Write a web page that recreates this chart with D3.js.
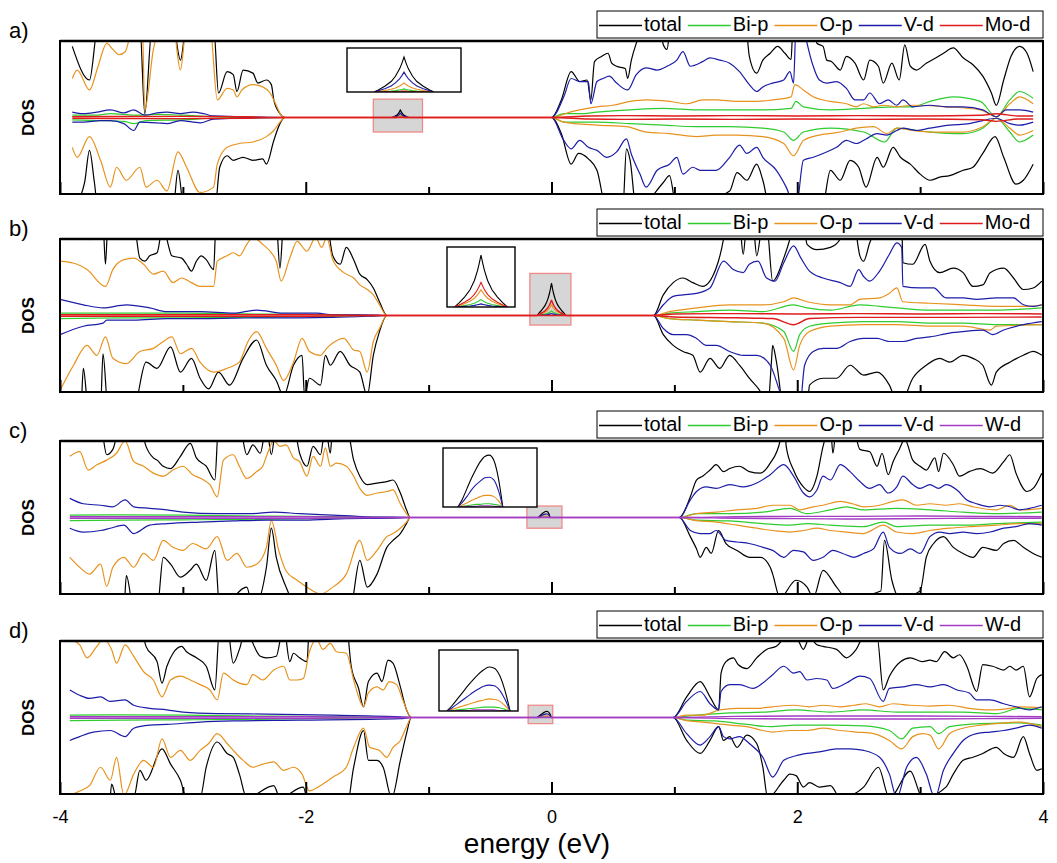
<!DOCTYPE html>
<html><head><meta charset="utf-8">
<script src="https://cdn.jsdelivr.net/npm/d3@7"></script>
<style>body{margin:0;background:#fff}svg{display:block;font-family:"Liberation Sans",Arial,sans-serif}</style>
</head><body>
<svg id="c" width="1057" height="863"></svg>
<script>
// ---------- DATA ----------
const panelLabels = ["a)", "b)", "c)", "d)"];
const legendA = ["total", "Bi-p", "O-p", "V-d", "Mo-d"];
const legendC = ["total", "Bi-p", "O-p", "V-d", "W-d"];
const majorTicks = [-4, -2, 0, 2, 4];
const minorTicks = [-3, -1, 1, 3];
const xDomain = [-4, 4];
const yDomain = [-10, 10];

// Panel a (Mo-doped): [energy eV, DOS] ; positive = spin up, negative = spin down
const aTotVbUp = [[-3.90,9.3],[-3.76,4.9],[-3.69,12],[-3.35,12],[-3.31,0.5],[-3.25,12],[-3.08,12],[-3.02,7.5],[-2.97,12],[-2.75,12],[-2.71,3.2],[-2.64,6.0],[-2.59,5.6],[-2.56,3.4],[-2.51,6.2],[-2.43,5.8],[-2.39,4.5],[-2.32,4.9],[-2.28,4.3],[-2.26,2.3],[-2.21,0.5],[-2.17,0]];
const aTotCbUp = [[0,0],[0.08,2.3],[0.16,6.0],[0.23,4.7],[0.29,4.9],[0.32,2.3],[0.35,7.3],[0.41,8.0],[0.46,8.4],[0.49,7.1],[0.53,6.7],[0.60,6.4],[0.62,5.1],[0.65,7.5],[0.69,9.7],[0.75,12],[0.88,12],[0.91,9.5],[0.94,8.9],[0.97,12],[1.58,12],[1.61,8.0],[1.67,5.8],[1.72,7.5],[1.78,8.4],[1.84,9.3],[1.90,8.4],[1.95,7.6],[1.965,12],[2.13,12],[2.16,9.7],[2.21,9.3],[2.24,7.5],[2.28,7.3],[2.35,6.2],[2.40,8.0],[2.47,7.1],[2.54,4.9],[2.59,7.5],[2.66,6.7],[2.70,4.5],[2.77,7.1],[2.83,4.9],[2.875,9.5],[2.92,6.7],[2.97,6.2],[3.05,7.1],[3.13,7.8],[3.19,8.4],[3.27,9.1],[3.35,7.8],[3.43,6.9],[3.51,5.4],[3.58,3.2],[3.62,1.6],[3.68,4.9],[3.74,8.0],[3.81,9.3],[3.87,8.4],[3.92,6.0]];
const aTotVbDn = [[-3.90,-12],[-3.80,-8.5],[-3.76,-4.3],[-3.72,-8.5],[-3.69,-12],[-3.08,-12],[-3.04,-6.9],[-2.99,-12],[-2.74,-12],[-2.70,-6.5],[-2.64,-5.0],[-2.59,-5.6],[-2.51,-5.2],[-2.43,-5.6],[-2.35,-5.4],[-2.32,-6.1],[-2.26,-3.0],[-2.21,-0.8],[-2.17,0]];
const aTotCbDn = [[0,0],[0.08,-2.1],[0.16,-6.1],[0.22,-4.7],[0.30,-5.4],[0.37,-6.9],[0.45,-12],[0.58,-12],[0.61,-4.1],[0.64,-5.6],[0.69,-12],[0.91,-8.5],[0.96,-7.6],[1.02,-12],[1.45,-9.6],[1.51,-7.2],[1.59,-8.2],[1.67,-6.1],[1.72,-8.2],[1.78,-12],[2.20,-12],[2.27,-6.9],[2.35,-8.2],[2.43,-5.6],[2.50,-6.5],[2.56,-9.1],[2.65,-5.2],[2.70,-6.5],[2.78,-3.9],[2.84,-5.2],[2.92,-6.1],[3.00,-7.4],[3.08,-8.2],[3.16,-7.8],[3.24,-7.6],[3.35,-6.9],[3.43,-6.5],[3.51,-4.7],[3.61,-2.5],[3.68,-5.2],[3.78,-8.7],[3.84,-8.2],[3.92,-6.1]];
const aOVbUp = [[-3.90,5.1],[-3.86,6.2],[-3.76,3.6],[-3.69,6.7],[-3.62,9.7],[-3.57,8.9],[-3.52,8.2],[-3.47,8.6],[-3.40,12],[-3.33,12],[-3.31,1.0],[-3.24,8.9],[-3.17,12],[-3.08,12],[-3.02,6.2],[-2.97,12],[-2.78,12],[-2.72,2.3],[-2.64,3.8],[-2.59,3.6],[-2.56,2.7],[-2.52,3.6],[-2.43,4.3],[-2.35,4.0],[-2.29,3.2],[-2.24,1.6],[-2.20,0.3],[-2.17,0]];
const aOCbUp = [[0,0],[0.15,0.7],[0.23,1.0],[0.37,1.4],[0.50,1.6],[0.64,2.1],[0.77,2.3],[0.96,2.1],[1.10,1.8],[1.23,2.3],[1.34,2.3],[1.51,2.1],[1.67,2.1],[1.80,2.3],[1.95,2.7],[1.98,4.3],[2.05,3.6],[2.13,2.7],[2.27,2.1],[2.40,1.8],[2.48,1.4],[2.54,1.8],[2.62,1.4],[2.70,1.6],[2.81,1.4],[2.94,1.6],[3.21,1.4],[3.49,1.0],[3.62,0.1],[3.73,1.8],[3.81,2.7],[3.92,1.8]];
const aOVbDn = [[-3.90,-3.9],[-3.86,-5.2],[-3.76,-2.5],[-3.67,-5.6],[-3.59,-9.1],[-3.54,-6.5],[-3.46,-8.2],[-3.35,-6.5],[-3.30,-9.1],[-3.21,-8.2],[-3.13,-9.6],[-3.04,-4.5],[-2.97,-6.5],[-2.86,-9.8],[-2.75,-9.1],[-2.72,-6.1],[-2.64,-3.9],[-2.54,-3.4],[-2.43,-3.2],[-2.32,-2.5],[-2.26,-1.7],[-2.20,-0.4],[-2.17,0]];
const aOCbDn = [[0,0],[0.10,-0.6],[0.37,-1.0],[0.61,-1.2],[0.77,-1.9],[0.96,-2.1],[1.18,-2.5],[1.34,-2.3],[1.51,-2.3],[1.72,-2.5],[1.89,-3.4],[1.97,-5.0],[2.05,-3.0],[2.18,-2.3],[2.35,-1.9],[2.48,-1.4],[2.62,-1.2],[2.73,-2.1],[2.81,-1.4],[2.94,-1.7],[3.08,-1.9],[3.35,-1.9],[3.51,-1.2],[3.62,-0.1],[3.73,-1.4],[3.81,-2.3],[3.92,-1.7]];
const aVVbUp = [[-3.90,0.7],[-3.81,0.5],[-3.70,0.7],[-3.59,1.0],[-3.48,0.6],[-3.40,1.0],[-3.31,0.3],[-3.21,0.6],[-3.13,0.7],[-3.02,0.5],[-2.92,0.7],[-2.83,0.5],[-2.75,0.2],[-2.17,0]];
const aVCbUp = [[0,0],[0.10,2.7],[0.16,5.1],[0.23,4.7],[0.30,4.7],[0.32,1.8],[0.37,4.7],[0.42,5.1],[0.47,5.4],[0.53,4.5],[0.62,3.6],[0.69,5.6],[0.77,6.5],[0.86,6.2],[0.94,6.7],[1.02,7.5],[1.07,8.6],[1.13,6.7],[1.23,7.3],[1.29,7.8],[1.37,7.5],[1.45,7.1],[1.53,6.0],[1.61,4.3],[1.67,3.4],[1.72,4.0],[1.80,4.5],[1.89,4.9],[1.94,6.0],[1.97,4.5],[1.99,12],[2.05,12],[2.08,9.7],[2.13,6.7],[2.18,4.9],[2.24,4.5],[2.32,4.7],[2.40,3.8],[2.47,2.3],[2.54,2.3],[2.59,3.2],[2.67,1.8],[2.74,2.3],[2.81,1.6],[2.86,2.3],[2.94,1.4],[3.08,1.6],[3.21,1.4],[3.35,1.4],[3.51,1.0],[3.62,0.1],[3.70,1.0],[3.81,1.0],[3.92,0.7]];
const aVVbDn = [[-3.90,-0.6],[-3.81,-0.6],[-3.67,-0.4],[-3.59,-0.4],[-3.48,-0.8],[-3.40,-1.7],[-3.35,-0.6],[-3.21,-0.7],[-3.13,-0.8],[-3.02,-0.4],[-2.86,-0.7],[-2.75,-0.2],[-2.17,0]];
const aVCbDn = [[0,0],[0.10,-3.0],[0.16,-4.1],[0.23,-3.0],[0.30,-3.9],[0.37,-4.3],[0.45,-5.2],[0.53,-4.5],[0.61,-2.8],[0.65,-4.8],[0.72,-7.4],[0.77,-9.1],[0.86,-6.9],[0.96,-6.1],[1.02,-5.2],[1.07,-7.4],[1.15,-6.5],[1.21,-6.9],[1.34,-6.9],[1.45,-5.2],[1.53,-3.6],[1.59,-4.7],[1.67,-3.9],[1.72,-5.2],[1.83,-6.9],[1.91,-9.1],[1.99,-12],[2.05,-5.6],[2.13,-5.2],[2.21,-4.7],[2.32,-3.9],[2.40,-3.0],[2.48,-3.4],[2.56,-2.8],[2.65,-2.1],[2.73,-2.3],[2.81,-1.7],[2.86,-1.4],[2.97,-1.7],[3.08,-1.4],[3.24,-1.0],[3.40,-0.8],[3.51,-0.4],[3.62,-0.1],[3.73,-0.8],[3.81,-1.0],[3.92,-0.6]];
const aBiVbUp = [[-3.90,0.3],[-3.70,0.3],[-3.59,0.5],[-3.40,0.3],[-3.20,0.4],[-3.00,0.3],[-2.75,0.1],[-2.17,0]];
const aBiCbUp = [[0,0],[0.10,0.5],[0.23,0.5],[0.37,0.7],[0.64,1.0],[0.91,1.2],[1.18,1.0],[1.45,1.0],[1.72,1.0],[1.95,1.2],[1.99,2.1],[2.05,1.4],[2.27,1.0],[2.54,1.2],[2.81,1.4],[2.94,1.4],[3.08,2.1],[3.27,2.7],[3.49,2.1],[3.62,0.1],[3.73,2.3],[3.81,3.4],[3.92,2.5]];
const aBiVbDn = [[-3.90,-0.3],[-3.70,-0.4],[-3.48,-0.5],[-3.40,-0.8],[-3.30,-0.4],[-3.00,-0.3],[-2.75,-0.1],[-2.17,0]];
const aBiCbDn = [[0,0],[0.10,-0.6],[0.37,-0.6],[0.64,-0.8],[0.91,-1.0],[1.18,-1.2],[1.45,-1.2],[1.72,-1.4],[1.89,-1.9],[1.97,-3.0],[2.05,-1.9],[2.27,-1.4],[2.54,-1.9],[2.71,-3.2],[2.81,-1.4],[3.08,-1.9],[3.35,-2.1],[3.51,-1.4],[3.62,-0.1],[3.73,-1.9],[3.81,-3.2],[3.92,-2.3]];
const aMVbUp = [[-3.90,0.1],[-3.00,0.15],[-2.50,0.1],[-2.17,0]];
const aMCbUp = [[0,0],[0.30,0.2],[0.60,0.25],[1.00,0.2],[1.50,0.25],[2.00,0.2],[2.50,0.25],[3.00,0.2],[3.50,0.3],[3.62,0.5],[3.80,0.2],[3.92,0.2]];
const aMVbDn = [[-3.90,-0.1],[-3.00,-0.15],[-2.50,-0.1],[-2.17,0]];
const aMCbDn = [[0,0],[0.30,-0.2],[0.60,-0.25],[1.00,-0.2],[1.50,-0.25],[2.00,-0.2],[2.50,-0.25],[3.00,-0.2],[3.50,-0.3],[3.62,-0.5],[3.80,-0.2],[3.92,-0.2]];
// gap state, panel a (spin up only)
const aGapE   = [-1.30,-1.29,-1.275,-1.26,-1.25,-1.24,-1.235,-1.23,-1.225,-1.22,-1.21,-1.20,-1.185,-1.17,-1.16];
const aGapTot = [0,0.06,0.165,0.30,0.45,0.67,0.82,1.0,0.82,0.67,0.45,0.30,0.165,0.06,0];
const aGapBi  = [0,0.005,0.015,0.027,0.04,0.06,0.074,0.09,0.074,0.06,0.04,0.027,0.015,0.005,0];
const aGapO   = [0,0.016,0.043,0.078,0.117,0.174,0.213,0.26,0.213,0.174,0.117,0.078,0.043,0.016,0];
const aGapV   = [0,0.034,0.094,0.17,0.26,0.38,0.47,0.57,0.47,0.38,0.26,0.17,0.094,0.034,0];
const aGapM   = [0,0.002,0.005,0.009,0.014,0.02,0.025,0.03,0.025,0.02,0.014,0.009,0.005,0.002,0];
const aBox = [-1.45, -1.05, -1.9, 2.4];      // highlighted region [E0,E1,D0,D1]
const aInsetX = [-1.363, -1.097], aInsetY = [0, 1.26];

// Panel b
const bTotVbUp = [[-4.0,12],[-3.78,12],[-3.76,9.9],[-3.74,12],[-3.65,12],[-3.63,6.7],[-3.61,12],[-3.40,12],[-3.35,7.5],[-3.31,7.1],[-3.27,7.8],[-3.21,8.2],[-3.16,12],[-3.12,9.3],[-3.09,7.8],[-3.01,7.5],[-2.97,6.7],[-2.93,5.8],[-2.89,7.1],[-2.85,7.8],[-2.81,7.3],[-2.75,6.0],[-2.73,12],[-2.24,12],[-2.21,6.2],[-2.18,12],[-1.83,12],[-1.78,7.8],[-1.72,6.7],[-1.67,8.9],[-1.61,7.3],[-1.56,5.4],[-1.50,4.7],[-1.45,3.6],[-1.40,1.8],[-1.34,0]];
const bTotCbUp = [[0.83,0],[0.91,2.7],[0.99,4.3],[1.07,4.9],[1.15,4.3],[1.23,3.8],[1.34,6.2],[1.40,10],[1.42,12],[1.53,12],[1.56,8.0],[1.59,12],[1.64,12],[1.67,7.8],[1.72,12],[1.75,12],[1.80,4.5],[1.89,7.5],[1.94,10],[1.97,12],[2.05,12],[2.08,9.3],[2.16,8.6],[2.27,8.9],[2.35,10],[2.38,12],[2.46,12],[2.51,7.8],[2.54,7.1],[2.59,9.5],[2.67,12],[2.85,12],[2.86,6.9],[2.94,6.7],[3.04,9.3],[3.08,7.1],[3.16,5.6],[3.27,6.2],[3.35,5.6],[3.43,3.8],[3.51,4.0],[3.57,5.6],[3.68,6.2],[3.76,4.9],[3.84,3.4],[3.92,3.6],[3.99,4.5]];
const bTotVbDn = [[-4.0,-12],[-3.83,-12],[-3.81,-6.9],[-3.77,-12],[-3.67,-12],[-3.65,-5.0],[-3.61,-12],[-3.40,-12],[-3.30,-6.1],[-3.21,-6.9],[-3.10,-4.1],[-3.02,-7.4],[-2.93,-5.6],[-2.86,-8.2],[-2.79,-9.6],[-2.71,-7.4],[-2.62,-9.1],[-2.51,-5.6],[-2.40,-3.2],[-2.32,-6.5],[-2.24,-8.5],[-2.18,-10.5],[-2.10,-6.5],[-2.03,-5.2],[-2.01,-10.5],[-1.97,-8.2],[-1.88,-9.1],[-1.84,-5.2],[-1.80,-6.5],[-1.72,-4.7],[-1.64,-6.5],[-1.56,-7.4],[-1.50,-10.5],[-1.45,-5.2],[-1.40,-2.1],[-1.34,0]];
const bTotCbDn = [[0.83,0],[0.91,-2.5],[0.99,-3.9],[1.07,-4.7],[1.15,-5.2],[1.21,-7.4],[1.29,-5.6],[1.37,-6.9],[1.45,-5.2],[1.53,-6.5],[1.61,-8.2],[1.72,-10.5],[1.76,-12],[1.79,-6.0],[1.80,-3.9],[1.83,-6.0],[1.89,-12],[2.08,-12],[2.10,-9.1],[2.21,-8.2],[2.32,-8.2],[2.43,-6.5],[2.54,-7.8],[2.65,-7.4],[2.75,-9.1],[2.83,-12],[2.94,-8.2],[3.05,-6.5],[3.16,-5.6],[3.24,-6.1],[3.35,-5.2],[3.43,-5.6],[3.51,-6.5],[3.58,-9.1],[3.62,-7.4],[3.73,-6.1],[3.84,-5.2],[3.92,-4.7],[3.99,-5.2]];
const bOVbUp = [[-4.0,7.1],[-3.86,6.7],[-3.78,6.0],[-3.63,3.8],[-3.57,6.0],[-3.48,7.3],[-3.40,7.5],[-3.32,6.7],[-3.24,5.4],[-3.16,5.8],[-3.08,4.3],[-3.01,4.9],[-2.93,4.3],[-2.86,3.8],[-2.75,3.8],[-2.72,7.1],[-2.64,7.8],[-2.59,8.2],[-2.54,7.8],[-2.48,9.3],[-2.43,10.2],[-2.35,9.3],[-2.24,7.1],[-2.20,4.5],[-2.13,7.5],[-2.07,9.7],[-1.99,8.4],[-1.92,10.2],[-1.87,8.9],[-1.83,10.2],[-1.78,7.3],[-1.69,5.6],[-1.61,4.9],[-1.56,4.0],[-1.50,3.4],[-1.45,2.7],[-1.40,1.4],[-1.34,0]];
const bOCbUp = [[0.83,0],[0.96,0.5],[1.18,1.0],[1.45,1.4],[1.72,1.4],[1.89,1.8],[1.97,2.3],[2.08,1.8],[2.27,1.4],[2.43,1.4],[2.51,2.1],[2.67,2.3],[2.75,2.9],[2.81,3.6],[2.86,1.8],[3.08,1.6],[3.35,1.4],[3.62,1.2],[3.89,1.2],[3.99,1.4]];
const bOVbDn = [[-4.0,-9.8],[-3.89,-6.5],[-3.78,-3.9],[-3.70,-5.2],[-3.63,-2.8],[-3.57,-5.6],[-3.46,-6.3],[-3.35,-4.7],[-3.24,-4.3],[-3.16,-3.4],[-3.09,-2.8],[-3.02,-5.0],[-2.93,-4.3],[-2.86,-6.1],[-2.75,-7.4],[-2.64,-6.9],[-2.54,-6.1],[-2.47,-3.4],[-2.40,-2.1],[-2.32,-4.3],[-2.24,-6.5],[-2.18,-8.5],[-2.10,-6.1],[-2.03,-3.0],[-1.97,-4.7],[-1.88,-5.2],[-1.83,-4.3],[-1.78,-3.6],[-1.69,-3.0],[-1.61,-4.5],[-1.56,-4.7],[-1.50,-7.4],[-1.45,-3.4],[-1.40,-1.7],[-1.34,0]];
const bOCbDn = [[0.83,0],[0.96,-0.4],[1.18,-0.6],[1.45,-0.8],[1.72,-1.0],[1.89,-3.0],[1.97,-7.1],[2.02,-3.9],[2.10,-2.1],[2.27,-1.4],[2.54,-1.2],[2.81,-1.2],[3.08,-1.4],[3.35,-1.4],[3.57,-1.9],[3.62,-1.4],[3.99,-1.2]];
const bVVbUp = [[-4.0,2.1],[-3.81,1.4],[-3.65,1.0],[-3.46,1.4],[-3.27,1.0],[-3.13,0.5],[-2.86,0.5],[-2.59,0.3],[-2.40,0.7],[-2.18,0.3],[-1.91,0.3],[-1.78,0.1],[-1.42,0.05],[-1.34,0]];
const bVCbUp = [[0.83,0],[0.91,1.4],[0.99,2.5],[1.07,2.7],[1.18,2.9],[1.29,3.6],[1.40,7.1],[1.48,6.0],[1.56,5.6],[1.61,6.7],[1.68,7.1],[1.75,4.9],[1.82,4.5],[1.89,6.9],[1.97,9.1],[2.03,7.5],[2.10,5.8],[2.21,4.9],[2.35,4.3],[2.43,3.8],[2.50,6.0],[2.54,5.1],[2.59,4.5],[2.67,5.8],[2.75,8.0],[2.81,9.5],[2.85,8.9],[2.86,3.8],[3.00,3.6],[3.11,3.6],[3.21,2.3],[3.35,2.3],[3.46,2.1],[3.62,2.3],[3.76,2.3],[3.84,1.4],[3.92,1.2],[3.99,1.4]];
const bVVbDn = [[-4.0,-2.5],[-3.81,-1.4],[-3.65,-1.0],[-3.62,-0.6],[-3.40,-0.6],[-3.13,-0.4],[-2.86,-0.4],[-2.59,-0.35],[-2.32,-0.3],[-2.05,-0.3],[-1.78,-0.25],[-1.42,-0.05],[-1.34,0]];
const bVCbDn = [[0.83,0],[0.91,-1.7],[0.99,-2.5],[1.10,-2.5],[1.18,-3.0],[1.26,-3.9],[1.34,-3.9],[1.45,-4.7],[1.56,-5.2],[1.67,-5.2],[1.78,-6.5],[1.86,-10],[1.91,-12],[2.02,-12],[2.06,-6.5],[2.13,-4.7],[2.21,-4.3],[2.32,-4.3],[2.43,-3.4],[2.54,-3.0],[2.65,-3.0],[2.75,-3.4],[2.86,-3.4],[2.97,-3.0],[3.08,-2.8],[3.24,-2.3],[3.35,-2.1],[3.51,-1.9],[3.59,-2.5],[3.68,-1.9],[3.84,-1.2],[3.99,-0.8]];
const bBiVbUp = [[-4.0,0.3],[-3.5,0.3],[-3.0,0.3],[-2.5,0.2],[-2.0,0.15],[-1.6,0.05],[-1.34,0]];
const bBiCbUp = [[0.83,0],[0.96,0.3],[1.18,0.5],[1.45,0.7],[1.72,0.5],[1.97,1.4],[2.08,1.0],[2.27,0.7],[2.51,1.4],[2.67,1.2],[2.81,1.0],[3.08,0.7],[3.35,0.7],[3.62,0.7],[3.99,1.0]];
const bBiVbDn = [[-4.0,-0.4],[-3.5,-0.3],[-3.0,-0.3],[-2.5,-0.25],[-2.0,-0.15],[-1.6,-0.05],[-1.34,0]];
const bBiCbDn = [[0.83,0],[0.96,-0.4],[1.18,-0.6],[1.45,-0.8],[1.72,-1.0],[1.89,-2.1],[1.97,-4.7],[2.02,-2.5],[2.10,-1.4],[2.27,-1.0],[2.54,-0.8],[2.81,-0.8],[3.08,-1.0],[3.35,-1.0],[3.62,-1.2],[3.99,-1.2]];
const bMVbUp = [[-4.0,0.1],[-2.0,0.1],[-1.34,0]];
const bMCbUp = [[0.83,0],[1.0,0.2],[1.5,0.25],[2.0,0.2],[2.5,0.25],[3.0,0.2],[3.5,0.25],[3.99,0.2]];
const bMVbDn = [[-4.0,-0.1],[-2.0,-0.1],[-1.34,0]];
const bMCbDn = [[0.83,0],[1.0,-0.2],[1.5,-0.3],[1.8,-0.4],[1.97,-1.2],[2.1,-0.4],[2.5,-0.25],[3.0,-0.25],[3.99,-0.2]];
const bGapE   = [-0.12,-0.10,-0.075,-0.05,-0.03,-0.016,-0.008,0,0.008,0.016,0.03,0.05,0.075,0.10,0.12];
const bGapTot = [0,0.34,0.8,1.39,2.14,2.94,3.53,4.2,3.53,2.94,2.14,1.39,0.8,0.34,0];
const bGapBi  = [0,0.05,0.11,0.2,0.31,0.42,0.5,0.6,0.5,0.42,0.31,0.2,0.11,0.05,0];
const bGapO   = [0,0.11,0.27,0.46,0.71,0.98,1.18,1.4,1.18,0.98,0.71,0.46,0.27,0.11,0];
const bGapV   = [0,0.02,0.05,0.08,0.13,0.18,0.21,0.25,0.21,0.18,0.13,0.08,0.05,0.02,0];
const bGapM   = [0,0.16,0.38,0.66,1.02,1.4,1.68,2.0,1.68,1.4,1.02,0.66,0.38,0.16,0];
const bBox = [-0.176, 0.158, -1.25, 5.5];
const bInsetX = [-0.155, 0.155], bInsetY = [0, 4.85];

// Panel c (W-doped)
const cTotVbUp = [[-3.92,12],[-3.67,12],[-3.62,8.2],[-3.57,8.9],[-3.51,12],[-3.35,12],[-3.30,9.3],[-3.24,7.8],[-3.21,7.5],[-3.16,6.7],[-3.10,6.4],[-3.02,8.0],[-2.94,9.7],[-2.89,7.8],[-2.81,6.7],[-2.74,4.9],[-2.71,12],[-2.54,12],[-2.48,8.2],[-2.43,9.5],[-2.37,8.4],[-2.32,12],[-2.28,8.2],[-2.24,12],[-2.10,12],[-2.05,8.4],[-1.99,6.7],[-1.94,9.3],[-1.88,8.2],[-1.84,12],[-1.80,8.4],[-1.78,12],[-1.67,12],[-1.61,7.5],[-1.56,5.4],[-1.50,4.3],[-1.42,4.5],[-1.34,4.7],[-1.29,4.9],[-1.23,3.2],[-1.18,1.0],[-1.15,0]];
const cTotCbUp = [[1.04,0],[1.13,2.7],[1.18,4.9],[1.23,5.4],[1.29,6.2],[1.34,6.9],[1.40,6.0],[1.45,6.4],[1.53,6.7],[1.61,6.0],[1.70,5.8],[1.78,7.1],[1.86,10],[1.88,12],[1.90,12],[1.91,9.3],[1.97,6.2],[2.05,4.0],[2.10,3.4],[2.16,5.4],[2.21,9.3],[2.27,12],[2.29,8.4],[2.32,12],[2.45,12],[2.51,8.9],[2.59,8.6],[2.65,6.7],[2.69,8.4],[2.74,5.6],[2.78,7.3],[2.83,8.9],[2.875,10.2],[2.94,7.5],[3.00,6.7],[3.05,6.2],[3.12,7.8],[3.15,6.0],[3.19,8.4],[3.27,6.9],[3.32,5.4],[3.40,6.0],[3.49,6.4],[3.59,5.8],[3.68,7.3],[3.73,8.2],[3.78,5.8],[3.87,3.4],[3.92,3.8],[3.99,5.8]];
const cTotVbDn = [[-3.92,-12],[-3.48,-12],[-3.46,-7.6],[-3.40,-12],[-3.21,-12],[-3.16,-5.2],[-3.10,-6.1],[-3.02,-7.8],[-2.94,-6.9],[-2.89,-6.1],[-2.81,-8.2],[-2.74,-4.3],[-2.70,-12],[-2.48,-9.1],[-2.43,-12],[-2.32,-6.5],[-2.28,-1.4],[-2.24,-5.2],[-2.16,-9.1],[-2.05,-12],[-1.64,-12],[-1.56,-5.6],[-1.50,-9.1],[-1.42,-7.4],[-1.34,-3.9],[-1.29,-3.0],[-1.23,-2.1],[-1.18,-0.8],[-1.15,0]];
const cTotCbDn = [[1.04,0],[1.13,-2.5],[1.18,-4.1],[1.21,-5.2],[1.26,-3.9],[1.30,-4.7],[1.36,-1.7],[1.42,-3.4],[1.51,-4.3],[1.61,-5.2],[1.70,-5.2],[1.78,-6.5],[1.80,-7.4],[1.86,-10.5],[1.99,-8.2],[2.08,-9.1],[2.13,-10.5],[2.21,-6.9],[2.32,-9.1],[2.40,-10.5],[2.68,-9.6],[2.71,-3.0],[2.77,-8.2],[2.83,-10.5],[3.00,-9.6],[3.05,-5.2],[3.11,-3.4],[3.19,-2.5],[3.27,-3.9],[3.35,-4.7],[3.43,-5.2],[3.51,-3.9],[3.62,-4.3],[3.68,-3.4],[3.76,-3.0],[3.84,-3.9],[3.92,-4.7],[3.99,-5.2]];
const cOVbUp = [[-3.92,8.0],[-3.84,8.6],[-3.77,6.2],[-3.70,6.9],[-3.62,7.5],[-3.54,8.4],[-3.47,10],[-3.40,7.3],[-3.32,6.7],[-3.24,5.8],[-3.16,5.4],[-3.08,6.2],[-3.00,6.7],[-2.92,5.6],[-2.83,4.9],[-2.78,4.3],[-2.72,2.7],[-2.67,7.5],[-2.59,8.2],[-2.54,6.7],[-2.48,5.1],[-2.40,6.0],[-2.35,6.7],[-2.32,8.0],[-2.26,10],[-2.21,9.3],[-2.16,9.5],[-2.10,7.8],[-2.05,7.3],[-1.99,5.4],[-1.94,8.0],[-1.88,6.7],[-1.84,9.1],[-1.80,6.7],[-1.75,7.1],[-1.67,6.7],[-1.61,5.4],[-1.56,3.8],[-1.50,2.9],[-1.42,3.2],[-1.34,3.4],[-1.29,3.6],[-1.23,1.8],[-1.18,0.5],[-1.15,0]];
const cOCbUp = [[1.04,0],[1.18,0.5],[1.34,0.7],[1.51,1.0],[1.67,1.2],[1.80,1.6],[1.94,1.6],[2.02,1.0],[2.13,1.4],[2.21,1.6],[2.35,2.1],[2.45,1.8],[2.54,1.4],[2.67,1.6],[2.78,2.1],[2.86,2.3],[2.97,1.6],[3.08,1.8],[3.21,1.6],[3.32,1.8],[3.43,1.4],[3.62,1.0],[3.73,1.6],[3.81,1.0],[3.99,1.2]];
const cOVbDn = [[-3.92,-5.2],[-3.84,-6.5],[-3.76,-7.4],[-3.67,-6.1],[-3.62,-9.0],[-3.57,-6.5],[-3.48,-5.2],[-3.40,-6.5],[-3.32,-4.7],[-3.24,-5.6],[-3.16,-3.0],[-3.08,-3.9],[-3.00,-4.3],[-2.92,-3.4],[-2.81,-4.1],[-2.72,-2.5],[-2.64,-5.6],[-2.56,-4.7],[-2.48,-6.5],[-2.40,-6.1],[-2.32,-3.9],[-2.28,-0.4],[-2.22,-4.3],[-2.16,-7.0],[-2.07,-8.2],[-1.99,-9.1],[-1.88,-10],[-1.78,-9.1],[-1.67,-7.4],[-1.56,-3.0],[-1.50,-5.6],[-1.42,-4.3],[-1.34,-2.5],[-1.29,-2.1],[-1.23,-1.4],[-1.18,-0.6],[-1.15,0]];
const cOCbDn = [[1.04,0],[1.18,-0.4],[1.34,-0.6],[1.51,-1.0],[1.67,-1.4],[1.80,-1.7],[1.94,-1.9],[2.05,-1.7],[2.16,-1.4],[2.27,-1.7],[2.40,-1.9],[2.54,-2.1],[2.70,-1.0],[2.81,-1.9],[2.94,-2.1],[3.08,-1.7],[3.24,-1.4],[3.40,-1.2],[3.62,-1.0],[3.81,-0.8],[3.99,-0.8]];
const cVVbUp = [[-3.92,2.5],[-3.81,1.8],[-3.67,1.6],[-3.57,1.4],[-3.47,2.3],[-3.40,1.4],[-3.27,1.2],[-3.13,1.0],[-3.00,0.7],[-2.72,0.5],[-2.45,0.5],[-2.26,0.7],[-2.05,0.5],[-1.78,0.3],[-1.50,0.1],[-1.23,0.02],[-1.15,0]];
const cVCbUp = [[1.04,0],[1.13,2.3],[1.18,3.4],[1.26,4.0],[1.34,3.8],[1.45,4.3],[1.56,4.0],[1.67,4.5],[1.78,5.6],[1.89,6.9],[1.97,5.4],[2.05,3.2],[2.10,2.7],[2.16,3.6],[2.21,5.4],[2.27,4.9],[2.35,6.9],[2.43,6.0],[2.51,4.7],[2.59,3.8],[2.67,4.3],[2.74,3.2],[2.81,4.0],[2.86,5.4],[2.94,4.3],[3.00,3.8],[3.08,4.3],[3.15,3.8],[3.21,4.3],[3.30,3.6],[3.38,2.3],[3.46,1.8],[3.57,1.4],[3.65,1.6],[3.73,1.4],[3.81,1.0],[3.89,1.2],[3.99,1.6]];
const cVVbDn = [[-3.92,-1.4],[-3.81,-1.9],[-3.67,-1.7],[-3.59,-1.4],[-3.48,-1.0],[-3.40,-2.1],[-3.27,-1.0],[-3.13,-0.8],[-2.86,-0.6],[-2.59,-0.45],[-2.32,-0.35],[-2.05,-0.35],[-1.78,-0.2],[-1.23,-0.05],[-1.15,0]];
const cVCbDn = [[1.04,0],[1.13,-1.7],[1.21,-2.1],[1.29,-2.1],[1.34,-1.7],[1.42,-3.0],[1.51,-3.2],[1.61,-3.4],[1.72,-3.9],[1.80,-4.3],[1.89,-5.2],[1.97,-4.3],[2.05,-4.5],[2.13,-5.6],[2.21,-5.2],[2.29,-4.3],[2.37,-4.7],[2.46,-5.2],[2.54,-4.7],[2.62,-4.1],[2.70,-1.9],[2.75,-3.9],[2.84,-4.7],[2.92,-4.1],[3.00,-4.7],[3.08,-2.5],[3.16,-1.9],[3.24,-2.1],[3.35,-1.9],[3.46,-2.1],[3.57,-1.9],[3.68,-1.4],[3.78,-1.2],[3.89,-0.8],[3.99,-1.0]];
const cBiVbUp = [[-3.92,0.3],[-3.5,0.35],[-3.0,0.3],[-2.5,0.2],[-2.0,0.15],[-1.5,0.05],[-1.15,0]];
const cBiCbUp = [[1.04,0],[1.18,0.5],[1.45,0.5],[1.72,0.7],[1.94,1.2],[2.08,0.5],[2.27,1.0],[2.40,1.4],[2.54,1.0],[2.81,1.2],[3.08,1.0],[3.35,0.7],[3.62,0.5],[3.99,0.7]];
const cBiVbDn = [[-3.92,-0.4],[-3.5,-0.35],[-3.0,-0.3],[-2.5,-0.25],[-2.0,-0.15],[-1.5,-0.05],[-1.15,0]];
const cBiCbDn = [[1.04,0],[1.18,-0.35],[1.45,-0.45],[1.72,-0.8],[1.94,-1.0],[2.08,-0.8],[2.27,-1.0],[2.54,-1.2],[2.70,-0.6],[2.81,-1.2],[3.08,-1.0],[3.35,-1.0],[3.62,-0.8],[3.99,-0.6]];
const cWVbUp = [[-3.92,0.1],[-2.0,0.1],[-1.15,0]];
const cWCbUp = [[1.04,0],[1.5,0.1],[2.0,0.15],[2.5,0.15],[3.0,0.2],[3.5,0.15],[3.99,0.1]];
const cWVbDn = [[-3.92,-0.1],[-2.0,-0.1],[-1.15,0]];
const cWCbDn = [[1.04,0],[1.5,-0.1],[2.0,-0.15],[2.5,-0.2],[3.0,-0.15],[3.5,-0.1],[3.99,-0.1]];
const cGapE   = [-0.11,-0.10,-0.09,-0.08,-0.07,-0.06,-0.05,-0.04,-0.03,-0.02,-0.01];
const cGapTot = [0,0.12,0.28,0.44,0.58,0.70,0.78,0.80,0.72,0.45,0];
const cGapBi  = [0,0.01,0.02,0.03,0.04,0.04,0.05,0.05,0.04,0.03,0];
const cGapO   = [0,0.03,0.06,0.10,0.13,0.16,0.18,0.18,0.16,0.10,0];
const cGapV   = [0,0.07,0.16,0.26,0.34,0.40,0.45,0.46,0.42,0.26,0];
const cGapW   = [0,0,0.01,0.01,0.01,0.02,0.02,0.02,0.01,0.01,0];
const cBox = [-0.20, 0.085, -1.4, 1.5];
const cInsetX = [-0.143, 0.066], cInsetY = [0, 0.91];

// Panel d
const dTotVbUp = [[-3.92,12],[-3.35,12],[-3.30,9.3],[-3.21,7.3],[-3.17,4.5],[-3.13,6.7],[-3.08,8.4],[-3.01,9.3],[-2.97,8.6],[-2.89,7.8],[-2.81,6.7],[-2.74,3.6],[-2.70,12],[-2.64,12],[-2.59,7.1],[-2.54,8.9],[-2.48,12],[-2.43,9.7],[-2.37,8.0],[-2.32,7.8],[-2.24,8.0],[-2.18,12],[-2.13,7.3],[-2.10,8.4],[-2.05,7.8],[-1.99,7.3],[-1.97,12],[-1.67,12],[-1.63,6.7],[-1.57,3.8],[-1.53,1.4],[-1.49,4.7],[-1.42,5.8],[-1.38,4.7],[-1.33,7.5],[-1.29,7.1],[-1.23,4.0],[-1.18,1.0],[-1.14,0]];
const dTotCbUp = [[0.99,0],[1.10,2.7],[1.21,4.7],[1.29,2.7],[1.36,1.0],[1.38,5.8],[1.42,7.3],[1.48,7.8],[1.52,6.9],[1.59,6.4],[1.67,7.8],[1.75,8.9],[1.83,9.3],[1.91,10.5],[1.99,10.5],[2.05,8.9],[2.10,10.5],[2.16,9.5],[2.21,9.3],[2.32,8.9],[2.40,7.8],[2.48,8.9],[2.54,10.5],[2.65,10.5],[2.70,3.6],[2.75,5.4],[2.84,7.3],[2.92,7.8],[3.02,7.3],[3.08,7.5],[3.13,7.3],[3.20,8.6],[3.27,7.8],[3.32,8.2],[3.38,6.7],[3.46,3.4],[3.51,6.9],[3.59,6.7],[3.68,6.2],[3.73,6.7],[3.78,6.2],[3.84,6.7],[3.89,2.7],[3.95,5.1],[3.99,5.6]];
const dTotVbDn = [[-3.92,-12],[-3.60,-12],[-3.58,-8.7],[-3.54,-10.5],[-3.40,-10.5],[-3.35,-6.9],[-3.30,-8.2],[-3.17,-4.1],[-3.10,-6.1],[-3.02,-8.2],[-2.97,-10.5],[-2.86,-10.5],[-2.81,-6.5],[-2.72,-3.2],[-2.64,-4.7],[-2.59,-5.2],[-2.54,-7.4],[-2.48,-10.5],[-2.26,-8.9],[-2.21,-10.5],[-2.02,-9.1],[-1.97,-12],[-1.67,-12],[-1.61,-6.5],[-1.53,-1.7],[-1.49,-5.6],[-1.42,-5.6],[-1.37,-6.5],[-1.30,-10.5],[-1.23,-5.6],[-1.18,-2.1],[-1.14,0]];
const dTotCbDn = [[0.99,0],[1.10,-3.0],[1.21,-4.7],[1.29,-3.0],[1.36,-1.2],[1.40,-3.0],[1.45,-2.5],[1.51,-3.9],[1.59,-2.3],[1.67,-3.4],[1.72,-6.5],[1.76,-10.5],[1.89,-8.2],[1.94,-7.4],[1.99,-7.6],[2.05,-9.1],[2.10,-8.5],[2.18,-9.1],[2.27,-8.9],[2.35,-10.5],[2.54,-9.1],[2.66,-6.5],[2.75,-10.5],[2.92,-7.0],[3.02,-10.5],[3.21,-9.1],[3.27,-7.4],[3.35,-5.6],[3.43,-5.2],[3.51,-4.7],[3.62,-3.9],[3.68,-4.7],[3.76,-5.2],[3.84,-2.5],[3.89,-4.7],[3.95,-6.9],[3.99,-6.7]];
const dOVbUp = [[-3.92,10.2],[-3.84,9.5],[-3.78,7.8],[-3.70,9.3],[-3.65,10.2],[-3.58,8.9],[-3.54,7.1],[-3.47,9.5],[-3.40,8.0],[-3.32,6.0],[-3.24,4.9],[-3.17,2.7],[-3.10,4.9],[-3.02,5.4],[-2.94,4.9],[-2.86,4.3],[-2.78,3.6],[-2.72,2.3],[-2.67,5.8],[-2.59,4.9],[-2.54,4.5],[-2.48,4.3],[-2.43,5.6],[-2.35,4.9],[-2.26,6.2],[-2.18,6.7],[-2.13,4.9],[-2.07,4.9],[-2.02,5.1],[-1.97,8.6],[-1.91,10.2],[-1.86,8.9],[-1.80,9.7],[-1.75,8.6],[-1.67,8.4],[-1.61,4.9],[-1.57,2.7],[-1.53,1.4],[-1.49,3.2],[-1.42,4.0],[-1.37,3.6],[-1.32,4.7],[-1.26,4.3],[-1.21,2.3],[-1.14,0]];
const dOCbUp = [[0.99,0],[1.10,0.3],[1.23,0.3],[1.37,1.0],[1.51,1.2],[1.67,1.2],[1.80,1.4],[1.97,1.6],[2.10,1.4],[2.21,1.6],[2.35,1.4],[2.46,1.6],[2.56,1.8],[2.67,1.4],[2.78,1.8],[2.92,1.6],[3.08,1.5],[3.24,1.6],[3.40,1.2],[3.57,1.0],[3.73,1.2],[3.81,1.4],[3.99,1.3]];
const dOVbDn = [[-3.92,-10.2],[-3.84,-9.6],[-3.76,-8.9],[-3.67,-6.5],[-3.59,-8.2],[-3.54,-5.2],[-3.48,-10.2],[-3.40,-7.4],[-3.32,-5.6],[-3.24,-6.5],[-3.17,-2.8],[-3.10,-5.2],[-3.02,-4.3],[-2.94,-5.6],[-2.86,-4.3],[-2.79,-3.4],[-2.72,-2.1],[-2.64,-3.4],[-2.59,-4.3],[-2.51,-5.6],[-2.43,-6.5],[-2.35,-6.1],[-2.26,-5.8],[-2.18,-6.9],[-2.10,-6.5],[-2.03,-7.4],[-1.97,-9.6],[-1.88,-8.9],[-1.78,-7.8],[-1.67,-6.5],[-1.61,-3.9],[-1.53,-1.4],[-1.48,-3.9],[-1.40,-4.3],[-1.34,-5.2],[-1.29,-3.9],[-1.23,-3.0],[-1.18,-1.2],[-1.14,0]];
const dOCbDn = [[0.99,0],[1.10,-0.4],[1.23,-0.6],[1.34,-0.8],[1.45,-1.0],[1.59,-1.2],[1.72,-1.7],[1.80,-1.9],[1.94,-1.7],[2.08,-1.7],[2.21,-1.4],[2.35,-1.7],[2.48,-1.9],[2.62,-2.1],[2.75,-3.0],[2.85,-4.1],[2.94,-2.5],[3.02,-2.1],[3.08,-2.3],[3.15,-4.1],[3.24,-2.1],[3.35,-1.4],[3.49,-1.0],[3.62,-0.8],[3.81,-0.6],[3.99,-1.2]];
const dVVbUp = [[-3.92,3.6],[-3.84,2.9],[-3.76,2.5],[-3.67,2.7],[-3.59,2.1],[-3.47,2.3],[-3.40,1.6],[-3.27,1.2],[-3.13,1.0],[-3.00,0.7],[-2.72,0.5],[-2.32,0.45],[-1.78,0.3],[-1.23,0.1],[-1.14,0]];
const dVCbUp = [[0.99,0],[1.10,2.1],[1.21,3.4],[1.29,1.8],[1.36,1.0],[1.38,3.4],[1.45,4.3],[1.53,4.3],[1.64,3.8],[1.72,4.5],[1.80,5.6],[1.89,6.7],[1.97,5.8],[2.02,6.0],[2.08,4.9],[2.16,5.1],[2.24,4.9],[2.29,3.8],[2.40,4.5],[2.51,5.4],[2.59,5.1],[2.70,2.1],[2.75,3.8],[2.86,4.0],[2.97,4.3],[3.08,4.0],[3.19,4.3],[3.30,3.6],[3.40,3.2],[3.46,2.3],[3.57,2.3],[3.68,1.8],[3.78,1.4],[3.89,1.0],[3.99,1.4]];
const dVVbDn = [[-3.92,-3.0],[-3.84,-2.5],[-3.73,-1.9],[-3.59,-1.7],[-3.47,-2.5],[-3.40,-1.4],[-3.27,-1.0],[-3.13,-0.9],[-2.86,-0.6],[-2.59,-0.45],[-2.05,-0.35],[-1.23,-0.15],[-1.14,0]];
const dVCbDn = [[0.99,0],[1.10,-2.1],[1.21,-3.6],[1.29,-2.5],[1.36,-1.2],[1.40,-2.5],[1.45,-2.8],[1.53,-2.5],[1.61,-3.4],[1.72,-5.2],[1.80,-7.8],[1.89,-5.6],[1.99,-5.0],[2.08,-4.7],[2.18,-4.5],[2.32,-4.1],[2.43,-4.1],[2.54,-4.3],[2.67,-5.2],[2.75,-7.4],[2.81,-10.5],[2.89,-6.5],[2.97,-5.2],[3.05,-7.4],[3.12,-10.5],[3.19,-6.9],[3.27,-4.7],[3.35,-3.0],[3.46,-2.1],[3.57,-1.9],[3.68,-1.7],[3.78,-1.4],[3.89,-1.0],[3.99,-1.4]];
const dBiVbUp = [[-3.92,0.3],[-3.5,0.35],[-3.0,0.3],[-2.5,0.2],[-2.0,0.15],[-1.5,0.05],[-1.14,0]];
const dBiCbUp = [[0.99,0],[1.18,0.3],[1.45,0.6],[1.72,0.7],[1.99,1.0],[2.27,0.7],[2.54,1.0],[2.81,0.7],[3.08,0.7],[3.35,0.7],[3.62,0.5],[3.81,1.2],[3.99,1.0]];
const dBiVbDn = [[-3.92,-0.4],[-3.5,-0.35],[-3.0,-0.3],[-2.5,-0.25],[-2.0,-0.15],[-1.5,-0.05],[-1.14,0]];
const dBiCbDn = [[0.99,0],[1.10,-0.35],[1.32,-0.45],[1.59,-0.9],[1.78,-1.2],[1.99,-1.0],[2.27,-1.0],[2.54,-1.1],[2.75,-1.7],[2.85,-2.8],[2.94,-1.4],[3.08,-1.2],[3.15,-2.1],[3.24,-1.2],[3.49,-0.8],[3.81,-0.7],[3.99,-1.0]];
const dWVbUp = [[-3.92,0.1],[-2.0,0.1],[-1.14,0]];
const dWCbUp = [[0.99,0],[1.5,0.15],[2.0,0.2],[2.5,0.2],[3.0,0.2],[3.5,0.15],[3.99,0.1]];
const dWVbDn = [[-3.92,-0.1],[-2.0,-0.1],[-1.14,0]];
const dWCbDn = [[0.99,0],[1.5,-0.15],[2.0,-0.2],[2.5,-0.2],[3.0,-0.2],[3.5,-0.15],[3.99,-0.1]];
const dGapE   = [-0.12,-0.11,-0.10,-0.09,-0.08,-0.07,-0.06,-0.05,-0.04,-0.03,-0.02,-0.01,0];
const dGapTot = [0,0.10,0.22,0.34,0.46,0.57,0.67,0.75,0.80,0.78,0.65,0.38,0];
const dGapBi  = [0,0.01,0.02,0.03,0.04,0.05,0.06,0.07,0.07,0.07,0.06,0.03,0];
const dGapO   = [0,0.03,0.06,0.09,0.12,0.15,0.18,0.20,0.22,0.21,0.18,0.10,0];
const dGapV   = [0,0.06,0.13,0.20,0.27,0.34,0.40,0.45,0.47,0.46,0.38,0.22,0];
const dGapW   = [0,0,0.01,0.01,0.01,0.02,0.02,0.02,0.02,0.02,0.01,0.01,0];
const dBox = [-0.19, 0.01, -0.8, 1.6];
const dInsetX = [-0.135, 0.015], dInsetY = [0, 1.11];

// ---------- STYLE / LAYOUT ----------
const colors = {"total":"#000000","Bi-p":"#2ecc2e","O-p":"#e8921e","V-d":"#1c1ca8","Mo-d":"#e01b1b","W-d":"#a43cc4"};
const panelTops = [41, 239, 441, 641];
const panelH = 153;
const plotL = 60, plotR = 1043;
const insetBoxes = [[347,48,114,44],[447,247,68,60],[443,448,94,59],[439,650,79,61]];
const insetCusp = [true, true, false, false];
const pts = (E, V) => E.map((e, i) => [e, V[i]]);

const panels = [
  {label:panelLabels[0], legend:legendA, gapE:aGapE, box:aBox, ix:aInsetX, iy:aInsetY,
   series:[
    {n:"total", up:aTotVbUp.concat(pts(aGapE,aGapTot),aTotCbUp), dn:aTotVbDn.concat(aTotCbDn), gap:aGapTot},
    {n:"Bi-p", up:aBiVbUp.concat(pts(aGapE,aGapBi),aBiCbUp), dn:aBiVbDn.concat(aBiCbDn), gap:aGapBi},
    {n:"O-p", up:aOVbUp.concat(pts(aGapE,aGapO),aOCbUp), dn:aOVbDn.concat(aOCbDn), gap:aGapO},
    {n:"V-d", up:aVVbUp.concat(pts(aGapE,aGapV),aVCbUp), dn:aVVbDn.concat(aVCbDn), gap:aGapV},
    {n:"Mo-d", up:aMVbUp.concat(pts(aGapE,aGapM),aMCbUp), dn:aMVbDn.concat(aMCbDn), gap:aGapM}]},
  {label:panelLabels[1], legend:legendA, gapE:bGapE, box:bBox, ix:bInsetX, iy:bInsetY,
   series:[
    {n:"total", up:bTotVbUp.concat(pts(bGapE,bGapTot),bTotCbUp), dn:bTotVbDn.concat(bTotCbDn), gap:bGapTot},
    {n:"Bi-p", up:bBiVbUp.concat(pts(bGapE,bGapBi),bBiCbUp), dn:bBiVbDn.concat(bBiCbDn), gap:bGapBi},
    {n:"O-p", up:bOVbUp.concat(pts(bGapE,bGapO),bOCbUp), dn:bOVbDn.concat(bOCbDn), gap:bGapO},
    {n:"V-d", up:bVVbUp.concat(pts(bGapE,bGapV),bVCbUp), dn:bVVbDn.concat(bVCbDn), gap:bGapV},
    {n:"Mo-d", up:bMVbUp.concat(pts(bGapE,bGapM),bMCbUp), dn:bMVbDn.concat(bMCbDn), gap:bGapM}]},
  {label:panelLabels[2], legend:legendC, gapE:cGapE, box:cBox, ix:cInsetX, iy:cInsetY,
   series:[
    {n:"total", up:cTotVbUp.concat(pts(cGapE,cGapTot),cTotCbUp), dn:cTotVbDn.concat(cTotCbDn), gap:cGapTot},
    {n:"Bi-p", up:cBiVbUp.concat(pts(cGapE,cGapBi),cBiCbUp), dn:cBiVbDn.concat(cBiCbDn), gap:cGapBi},
    {n:"O-p", up:cOVbUp.concat(pts(cGapE,cGapO),cOCbUp), dn:cOVbDn.concat(cOCbDn), gap:cGapO},
    {n:"V-d", up:cVVbUp.concat(pts(cGapE,cGapV),cVCbUp), dn:cVVbDn.concat(cVCbDn), gap:cGapV},
    {n:"W-d", up:cWVbUp.concat(pts(cGapE,cGapW),cWCbUp), dn:cWVbDn.concat(cWCbDn), gap:cGapW}]},
  {label:panelLabels[3], legend:legendC, gapE:dGapE, box:dBox, ix:dInsetX, iy:dInsetY,
   series:[
    {n:"total", up:dTotVbUp.concat(pts(dGapE,dGapTot),dTotCbUp), dn:dTotVbDn.concat(dTotCbDn), gap:dGapTot},
    {n:"Bi-p", up:dBiVbUp.concat(pts(dGapE,dGapBi),dBiCbUp), dn:dBiVbDn.concat(dBiCbDn), gap:dGapBi},
    {n:"O-p", up:dOVbUp.concat(pts(dGapE,dGapO),dOCbUp), dn:dOVbDn.concat(dOCbDn), gap:dGapO},
    {n:"V-d", up:dVVbUp.concat(pts(dGapE,dGapV),dVCbUp), dn:dVVbDn.concat(dVCbDn), gap:dGapV},
    {n:"W-d", up:dWVbUp.concat(pts(dGapE,dGapW),dWCbUp), dn:dWVbDn.concat(dWCbDn), gap:dGapW}]}
];

// ---------- DRAW ----------
const svg = d3.select("#c");
const x = d3.scaleLinear().domain(xDomain).range([plotL, plotR]);

panels.forEach((p, pi) => {
  const top = panelTops[pi], bot = top + panelH;
  const y = d3.scaleLinear().domain(yDomain).range([bot, top]);
  const g = svg.append("g");
  const cid = "clip" + pi;
  svg.append("clipPath").attr("id", cid).append("rect")
    .attr("x", plotL).attr("y", top).attr("width", plotR - plotL).attr("height", panelH);

  // highlight box
  g.append("rect").attr("x", x(p.box[0])).attr("y", y(p.box[3]))
    .attr("width", x(p.box[1]) - x(p.box[0])).attr("height", y(p.box[2]) - y(p.box[3]))
    .attr("fill", "#d6d6d6").attr("stroke", "#f08a8a").attr("stroke-width", 1.3);

  const line = d3.line().x(d => x(d[0])).y(d => y(d[1])).curve(d3.curveMonotoneX);
  const cg = g.append("g").attr("clip-path", `url(#${cid})`);
  p.series.forEach(s => {
    const w = (s.n === "Mo-d" || s.n === "W-d") ? 1.4 : 1.2;
    [s.up, s.dn].forEach(arr => {
      cg.append("path").datum(arr.slice().sort((a, b) => a[0] - b[0]))
        .attr("d", line).attr("fill", "none").attr("stroke", colors[s.n]).attr("stroke-width", w)
        .attr("stroke-linejoin", "round");
    });
  });

  // frame
  g.append("rect").attr("x", plotL).attr("y", top).attr("width", plotR - plotL).attr("height", panelH)
    .attr("fill", "none").attr("stroke", "#000").attr("stroke-width", 2);
  g.append("line").attr("x1", plotL).attr("x2", plotR).attr("y1", top).attr("y2", top)
    .attr("stroke", "#000").attr("stroke-width", 2.6);

  // axes (ticks inward)
  const last = pi === panels.length - 1;
  const axMaj = d3.axisBottom(x).tickValues(majorTicks).tickSizeInner(-12).tickSizeOuter(0).tickPadding(16)
    .tickFormat(last ? (d => String(d)) : () => "");
  const axMin = d3.axisBottom(x).tickValues(minorTicks).tickSizeInner(-7).tickSizeOuter(0).tickFormat(() => "");
  [axMaj, axMin].forEach(ax => {
    const a = g.append("g").attr("transform", `translate(0,${bot})`).call(ax);
    a.select(".domain").remove();
    a.selectAll("line").attr("stroke", "#000").attr("stroke-width", 2);
    a.selectAll("text").attr("font-size", 18).attr("fill", "#000")
      .attr("font-family", '"Liberation Sans", Arial, sans-serif');
  });

  // panel label and y title
  g.append("text").attr("x", 9).attr("y", top - 3).attr("font-size", 22).text(p.label);
  g.append("text").attr("transform", `translate(34,${top + panelH / 2}) rotate(-90)`)
    .attr("text-anchor", "middle").attr("font-size", 17).attr("font-weight", "bold").text("DOS");

  // legend
  const lg = g.append("g");
  const lbx = 597, lby = top - 30, lbh = 27;
  const lrect = lg.append("rect").attr("x", lbx).attr("y", lby).attr("height", lbh)
    .attr("fill", "#fff").attr("stroke", "#000").attr("stroke-width", 1);
  let cx = lbx + 2;
  p.legend.forEach(name => {
    lg.append("line").attr("x1", cx).attr("x2", cx + 43).attr("y1", lby + lbh / 2 + 1).attr("y2", lby + lbh / 2 + 1)
      .attr("stroke", colors[name]).attr("stroke-width", 1.3);
    const t = lg.append("text").attr("x", cx + 45).attr("y", top - 10).attr("font-size", 20).text(name);
    cx += 45 + t.node().getComputedTextLength() + 6;
  });
  lrect.attr("width", Math.max(cx - lbx, 446));

  // inset
  const [bx, by, bw, bh] = insetBoxes[pi];
  const ix = d3.scaleLinear().domain(p.ix).range([bx, bx + bw]);
  const iy = d3.scaleLinear().domain(p.iy).range([by + bh, by]);
  const icid = "iclip" + pi;
  svg.append("clipPath").attr("id", icid).append("rect").attr("x", bx).attr("y", by).attr("width", bw).attr("height", bh);
  const ig = g.append("g");
  ig.append("rect").attr("x", bx).attr("y", by).attr("width", bw).attr("height", bh).attr("fill", "#fff");
  const iline = d3.line().x(d => ix(d[0])).y(d => iy(d[1]))
    .curve(insetCusp[pi] ? d3.curveLinear : d3.curveMonotoneX);
  const icg = ig.append("g").attr("clip-path", `url(#${icid})`);
  p.series.forEach(s => {
    icg.append("path").datum(pts(p.gapE, s.gap)).attr("d", iline).attr("fill", "none")
      .attr("stroke", colors[s.n]).attr("stroke-width", 1.1);
  });
  ig.append("rect").attr("x", bx).attr("y", by).attr("width", bw).attr("height", bh)
    .attr("fill", "none").attr("stroke", "#000").attr("stroke-width", 1.4);
});

svg.append("text").attr("x", 537).attr("y", 853).attr("text-anchor", "middle").attr("font-size", 28).text("energy (eV)");
</script>
</body></html>
